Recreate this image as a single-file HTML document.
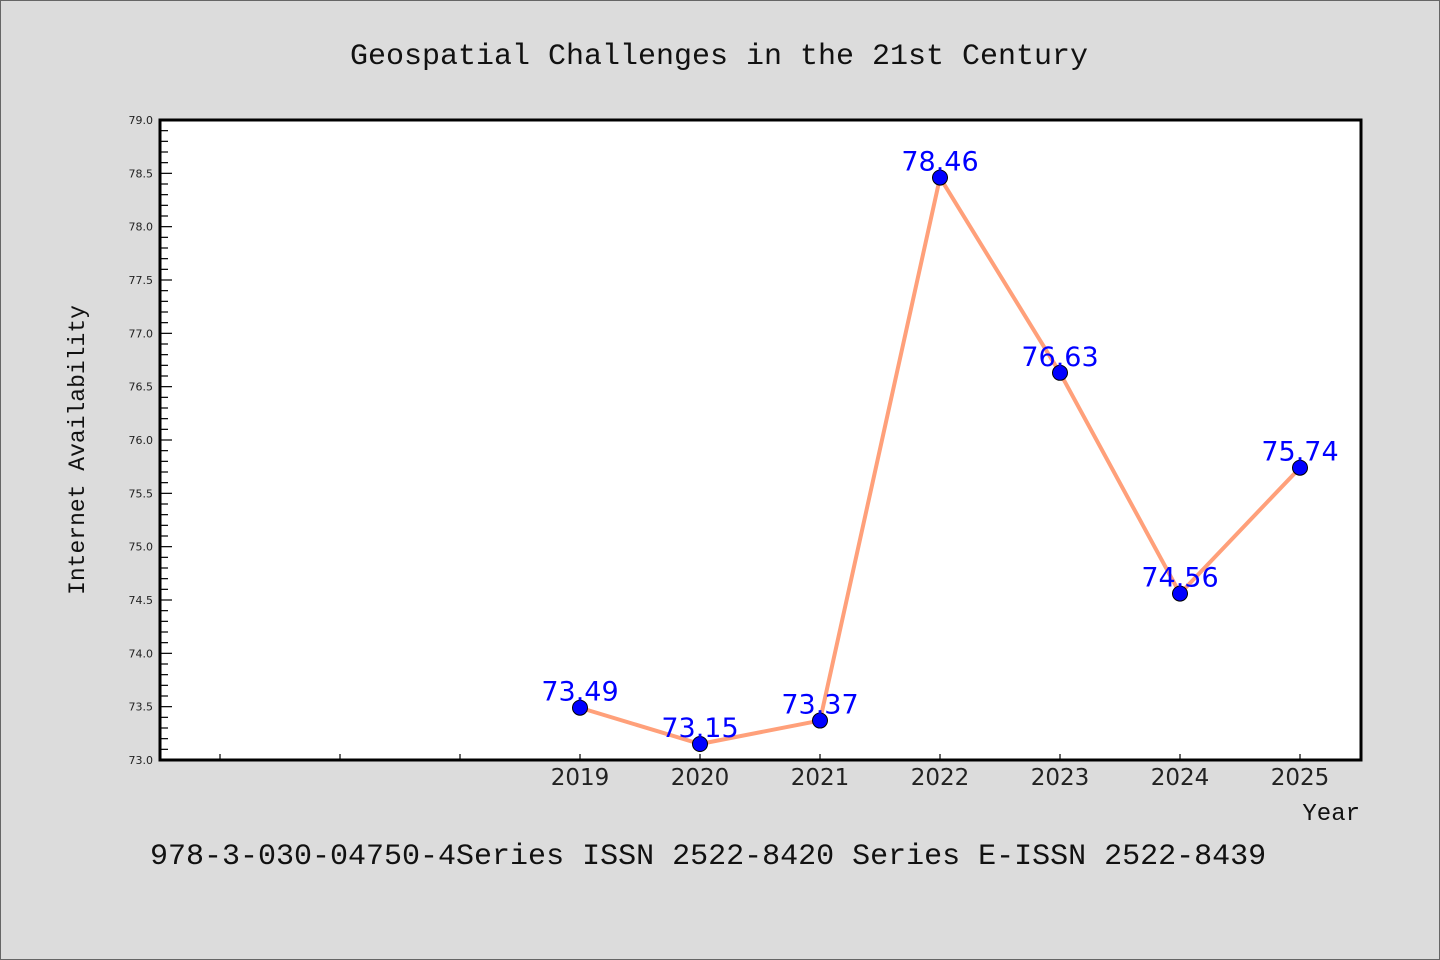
<!DOCTYPE html>
<html><head><meta charset="utf-8"><style>
body{margin:0;background:#dcdcdc;}
svg{display:block}
</style></head><body>
<svg width="1440" height="960" xmlns="http://www.w3.org/2000/svg">
<rect x="0.5" y="0.5" width="1439" height="959" fill="#dcdcdc" stroke="#666"/>
<text x="719" y="64" text-anchor="middle" font-family="Liberation Mono, monospace" font-size="30" fill="#111">Geospatial Challenges in the 21st Century</text>
<rect x="160" y="120" width="1201" height="640" fill="#fff"/>
<g id="ticks"></g>
<g id="series"></g>
<rect x="160" y="120" width="1201" height="640" fill="none" stroke="#000" stroke-width="3"/>
<text transform="translate(84,450) rotate(-90)" text-anchor="middle" font-family="Liberation Mono, monospace" font-size="23" fill="#111">Internet Availability</text>
<text x="1360" y="820" text-anchor="end" font-family="Liberation Mono, monospace" font-size="24" fill="#111">Year</text>
<text x="150" y="864" font-family="Liberation Mono, monospace" font-size="30" fill="#111">978-3-030-04750-4Series ISSN 2522-8420 Series E-ISSN 2522-8439</text>
</svg>
<script>
const categories = ["", "", "", "2019", "2020", "2021", "2022", "2023", "2024", "2025"];
const values = [null, null, null, 73.49, 73.15, 73.37, 78.46, 76.63, 74.56, 75.74];
const labels = ["", "", "", "73.49", "73.15", "73.37", "78.46", "76.63", "74.56", "75.74"];
const yTicks = ["73.0","73.5","74.0","74.5","75.0","75.5","76.0","76.5","77.0","77.5","78.0","78.5","79.0"];
const yMin = 73, yMax = 79;
const NS = "http://www.w3.org/2000/svg";
const L = 160, R = 1360, T = 120, B = 760;
const slot = (R - L) / categories.length;
const xs = i => L + slot * (i + 0.5);
const ys = v => B - (v - yMin) / (yMax - yMin) * (B - T);
function mk(tag, attrs, parent){const e=document.createElementNS(NS,tag);for(const k in attrs)e.setAttribute(k,attrs[k]);parent.appendChild(e);return e;}
const tg = document.getElementById('ticks');
for (let k = 0; k <= 60; k++) {
  const v = yMin + k * 0.1, y = ys(v), major = k % 5 === 0;
  const t = mk('line', {x1:L, x2:L + (major ? 12 : 8), y1:y, y2:y, stroke:'#000', 'stroke-width':1.2}, tg);
  
  
}
yTicks.forEach(s => {
  const y = ys(parseFloat(s));
  const t = mk('text', {x:153, y:y + 4, 'text-anchor':'end', 'font-family':'DejaVu Sans, sans-serif', 'font-size':11, fill:'#222'}, tg);
  t.textContent = s;
  
  
});
categories.forEach((c, i) => {
  const x = xs(i);
  const t = mk('line', {x1:x, x2:x, y1:B, y2:B - 6, stroke:'#000', 'stroke-width':1.2}, tg);
  
  
  if (c) {
    const l = mk('text', {x:x, y:785, 'text-anchor':'middle', 'font-family':'DejaVu Sans, sans-serif', 'font-size':23, fill:'#222'}, tg);
    l.textContent = c;
    
    
  }
});
const sg = document.getElementById('series');
const pts = [];
values.forEach((v, i) => { if (v !== null) pts.push([xs(i), ys(v), i]); });
const line = mk('polyline', {points: pts.map(p => p[0] + ',' + p[1]).join(' '), fill:'none', stroke:'#ffa07a', 'stroke-width':4, 'stroke-linejoin':'round'}, sg);


pts.forEach(p => {
  const c = mk('circle', {cx:p[0], cy:p[1], r:7.5, fill:'#0000ff', stroke:'#000', 'stroke-width':1}, sg);
  
  
  const t = mk('text', {x:p[0], y:p[1] - 7, 'text-anchor':'middle', 'font-family':'DejaVu Sans, sans-serif', 'font-size':27, fill:'#0000ff'}, sg);
  t.textContent = labels[p[2]];
  
  
});
</script>
</body></html>
